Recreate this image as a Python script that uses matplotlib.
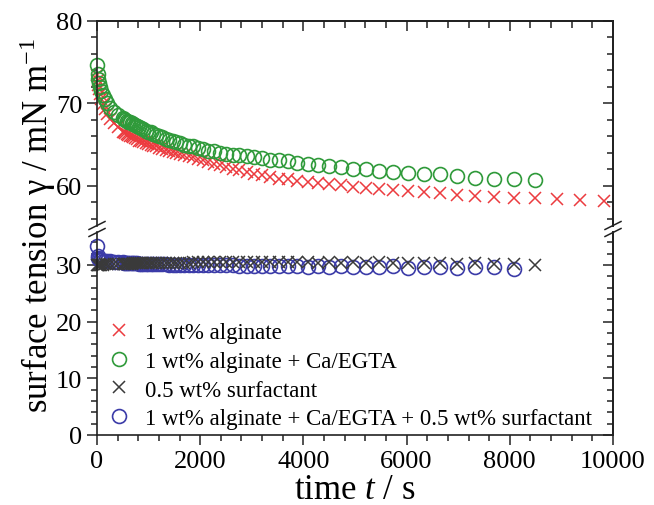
import numpy as np
import matplotlib
matplotlib.use("Agg")
import matplotlib.pyplot as plt
from matplotlib.ticker import MultipleLocator
from matplotlib.lines import Line2D

plt.rcParams['font.family'] = ['Liberation Serif', 'DejaVu Serif']
plt.rcParams['mathtext.fontset'] = 'custom'
plt.rcParams['mathtext.rm'] = 'Liberation Serif'
plt.rcParams['mathtext.it'] = 'Liberation Serif:italic'

# time points (s)
t = [0, 10, 20, 35, 55, 80, 110, 150, 200, 260,
     330, 410, 500, 525, 550, 580, 610, 640, 670, 705,
     740, 775, 815, 855, 900, 945, 990, 1040, 1090, 1145,
     1205, 1265, 1330, 1395, 1465, 1535, 1615, 1695, 1780, 1865,
     1960, 2060, 2160, 2270, 2385, 2500, 2630, 2760, 2900, 3040,
     3190, 3350, 3520, 3700, 3880, 4080, 4280, 4490, 4720, 4960,
     5210, 5470, 5740, 6030, 6330, 6650, 6980, 7330, 7700, 8080,
     8490, 8910, 9360, 9830]

# surface tension (mN/m)
alginate = [73.5, 72.8, 72.3, 71.7, 71.1, 70.5, 69.9, 69.3, 68.7, 68.1,
            67.6, 67.1, 66.6, 66.5, 66.4, 66.3, 66.2, 66.1, 66.0, 65.9,
            65.8, 65.7, 65.5, 65.4, 65.3, 65.2, 65.1, 65.0, 64.9, 64.8,
            64.6, 64.5, 64.4, 64.3, 64.1, 64.0, 63.9, 63.8, 63.6, 63.5,
            63.3, 63.1, 62.9, 62.7, 62.5, 62.3, 62.1, 61.9, 61.7, 61.5,
            61.3, 61.1, 60.9, 60.8, 60.6, 60.5, 60.4, 60.2, 60.1, 59.9,
            59.8, 59.6, 59.5, 59.4, 59.3, 59.1, 58.9, 58.8, 58.7, 58.6,
            58.5, 58.4, 58.3, 58.2]
alg_ca = [74.7, 73.6, 73.0, 72.5, 72.0, 71.5, 71.0, 70.5, 70.0, 69.5,
          69.0, 68.6, 68.2, 68.1, 68.0, 67.9, 67.8, 67.7, 67.6, 67.5,
          67.4, 67.3, 67.1, 67.0, 66.9, 66.7, 66.6, 66.5, 66.3, 66.2,
          66.0, 65.9, 65.7, 65.6, 65.4, 65.3, 65.2, 65.0, 64.9, 64.8,
          64.6, 64.5, 64.3, 64.2, 64.0, 63.9, 63.8, 63.7, 63.6, 63.5,
          63.4, 63.2, 63.1, 63.0, 62.8, 62.7, 62.6, 62.4, 62.3, 62.1,
          62.0, 61.8, 61.7, 61.6, 61.5, 61.4, 61.2, 61.0, 60.9, 60.8,
          60.7]
surfactant = [29.9, 29.9, 29.9, 30.0, 30.0, 30.0, 30.0, 30.1, 30.1, 30.1,
              30.1, 30.1, 30.2, 30.2, 30.2, 30.2, 30.2, 30.2, 30.2, 30.3,
              30.3, 30.3, 30.3, 30.3, 30.3, 30.3, 30.3, 30.4, 30.4, 30.4,
              30.4, 30.4, 30.4, 30.4, 30.4, 30.4, 30.4, 30.4, 30.4, 30.5,
              30.5, 30.5, 30.5, 30.5, 30.5, 30.5, 30.5, 30.5, 30.5, 30.5,
              30.5, 30.5, 30.5, 30.5, 30.5, 30.5, 30.4, 30.5, 30.4, 30.5,
              30.4, 30.5, 30.3, 30.4, 30.3, 30.4, 30.2, 30.3, 30.2, 30.1,
              29.9]
alg_ca_surf = [33.4, 31.6, 31.2, 31.0, 30.9, 30.8, 30.7, 30.7, 30.6, 30.6,
               30.5, 30.5, 30.5, 30.4, 30.4, 30.4, 30.4, 30.3, 30.3, 30.3,
               30.3, 30.3, 30.2, 30.2, 30.2, 30.2, 30.2, 30.1, 30.1, 30.1,
               30.1, 30.1, 30.1, 30.0, 30.0, 30.0, 30.0, 30.0, 30.0, 29.9,
               29.9, 29.9, 29.9, 29.9, 29.9, 29.9, 29.9, 29.8, 29.8, 29.8,
               29.8, 29.8, 29.8, 29.8, 29.8, 29.7, 29.8, 29.7, 29.8, 29.7,
               29.7, 29.6, 29.8, 29.5, 29.7, 29.6, 29.4, 29.6, 29.7, 29.2]

labels = ['1 wt% alginate', '1 wt% alginate + Ca/EGTA',
          '0.5 wt% surfactant', '1 wt% alginate + Ca/EGTA + 0.5 wt% surfactant']

red = '#ec3b3f'
green = '#2f9a3a'
black = '#3a3a3a'
blue = '#3b3ba8'

W, H = 654, 506
fig = plt.figure(figsize=(W / 100, H / 100), dpi=100)
x0, x1 = 97 / W, 613 / W
ax_up = fig.add_axes([x0, 1 - 227 / H, x1 - x0, (227 - 22) / H])
ax_lo = fig.add_axes([x0, 1 - 436 / H, x1 - x0, (436 - 233) / H])

mk_x = dict(marker='x', ms=9, mew=1.1, ls='none', clip_on=False)
mk_o = dict(marker='o', ms=10, mew=1.2, mfc='none', ls='none', clip_on=False)

ax_up.plot(t[:len(alginate)], alginate, color=red, **mk_x)
ax_up.plot(t[:len(alg_ca)], alg_ca, color=green, mec=green, **mk_o)
ax_lo.plot(t[:len(alg_ca_surf)], alg_ca_surf, color=blue, mec=blue, **mk_o)
ax_lo.plot(t[:len(surfactant)], surfactant, color=black, **mk_x)

ax_up.set_ylim(55.15, 80)
ax_lo.set_ylim(0, 35.8)
for ax in (ax_up, ax_lo):
    ax.set_xlim(0, 10000)
    ax.xaxis.set_major_locator(MultipleLocator(2000))
    ax.xaxis.set_minor_locator(MultipleLocator(400))
    ax.yaxis.set_major_locator(MultipleLocator(10))
    ax.yaxis.set_minor_locator(MultipleLocator(2))
    ax.tick_params(which='both', direction='out', right=False, top=False,
                   labelsize=19, width=1.1, color='#222222')
    ax.tick_params(which='major', length=7)
    ax.tick_params(which='minor', length=4)
    for s in ax.spines.values():
        s.set_linewidth(1.2)
        s.set_color('#222222')
    sec = ax.secondary_yaxis('right')
    sec.yaxis.set_major_locator(MultipleLocator(10))
    sec.yaxis.set_minor_locator(MultipleLocator(2))
    sec.tick_params(which='both', direction='in', labelright=False, width=1.1, color='#222222')
    sec.tick_params(which='major', length=7)
    sec.tick_params(which='minor', length=4)
    sec.spines['right'].set_linewidth(1.2)

ax_up.spines['bottom'].set_visible(False)
ax_up.tick_params(which='both', bottom=False, labelbottom=False)
ax_lo.spines['top'].set_visible(False)
ax_up.set_yticks([60, 70, 80])
ax_lo.set_yticks([0, 10, 20, 30])

top = ax_up.secondary_xaxis('top')
top.xaxis.set_major_locator(MultipleLocator(2000))
top.xaxis.set_minor_locator(MultipleLocator(400))
top.tick_params(which='both', direction='in', labeltop=False, width=1.1, color='#222222')
top.tick_params(which='major', length=7)
top.tick_params(which='minor', length=5)
top.spines['top'].set_linewidth(1.2)

# axis break marks
yb = 1 - 230 / H
for xs in (x0, x1):
    for dy in (-3.5, 3.5):
        fig.add_artist(Line2D([xs - 8 / W, xs + 8 / W],
                              [yb + (dy - 4) / H, yb + (dy + 4) / H],
                              color='#222222', lw=1.1))

ax_lo.set_xlabel('time $t$ / s', fontsize=25, labelpad=1)
fig.text(38 / W, 1 - 226 / H, 'surface tension \u03b3 / mN m$^{-1}$',
         rotation=90, fontsize=25, ha='center', va='center')

handles = [Line2D([], [], color=red, **mk_x),
           Line2D([], [], color=green, mec=green, **mk_o),
           Line2D([], [], color=black, **mk_x),
           Line2D([], [], color=blue, mec=blue, **mk_o)]
ax_lo.legend(handles, labels, loc='lower left', bbox_to_anchor=(-0.01, -0.05),
             frameon=False, fontsize=16.5, handlelength=1.0, handletextpad=0.6,
             labelspacing=0.33, borderaxespad=0.3)

fig.savefig('out.png', dpi=100)
